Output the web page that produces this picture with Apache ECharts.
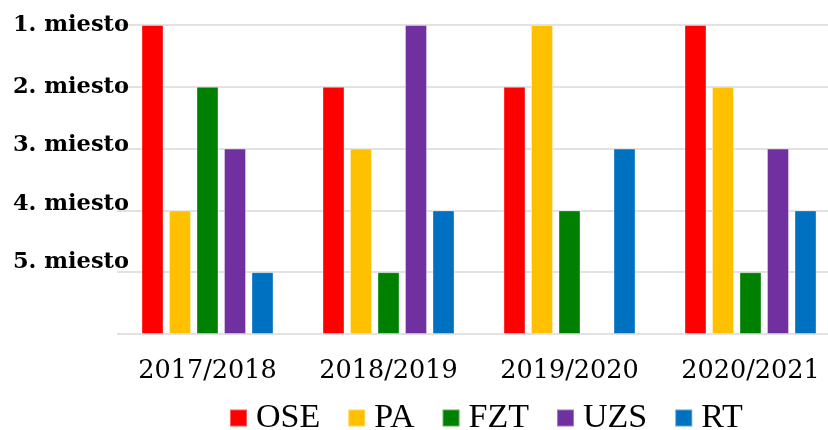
<!DOCTYPE html>
<html>
<head>
<meta charset="utf-8">
<script src="https://cdn.jsdelivr.net/npm/echarts@6/dist/echarts.min.js"></script>
<style>html,body{margin:0;padding:0;background:#fff;}#c{width:828px;height:430px;}</style>
</head>
<body>
<div id="c"></div>
<script>
// Categories (seasons)
var categories = ['2017/2018', '2018/2019', '2019/2020', '2020/2021'];
// Ranks (placement) per team; null = no bar
var seriesNames = ['OSE', 'PA', 'FZT', 'UZS', 'RT'];
var rankOSE = [1, 2, 2, 1];
var rankPA  = [4, 3, 1, 2];
var rankFZT = [2, 5, 4, 5];
var rankUZS = [3, 1, null, 3];
var rankRT  = [5, 4, 3, 4];
var colors = ['#FF0000', '#FFC000', '#008000', '#7030A0', '#0070C0'];
// Y tick labels (value = 6 - rank)
var rankLabels = ['1. miesto', '2. miesto', '3. miesto', '4. miesto', '5. miesto'];

var allRanks = [rankOSE, rankPA, rankFZT, rankUZS, rankRT];
function toHeight(r) { return r == null ? null : 6 - r; }

var chart = echarts.init(document.getElementById('c'));
var series = seriesNames.map(function (n, i) {
  return {
    name: n,
    type: 'bar',
    data: allRanks[i].map(toHeight),
    barWidth: 22,
    barGap: '25%',
    itemStyle: { color: colors[i], borderColor: 'rgba(255,255,255,0.35)', borderWidth: 1 }
  };
});

var labelStyle = { fontFamily: 'DejaVu Serif', fontWeight: 'bold', fontSize: 22.5, color: '#000' };
function rs(pb) { return Object.assign({}, labelStyle, { padding: [0, 0, pb, 0] }); }

chart.setOption({
  animation: false,
  backgroundColor: '#ffffff',
  grid: { left: 117, width: 724, top: 25, height: 309, containLabel: false, outerBoundsMode: 'none' },
  legend: {
    data: seriesNames,
    left: 229,
    top: 401,
    padding: 0,
    icon: 'rect',
    itemWidth: 17,
    itemHeight: 17,
    itemGap: 27,
    textStyle: { fontFamily: 'Liberation Serif', fontSize: 34, color: '#000', lineHeight: 34, padding: [0, 0, 0, 4] }
  },
  xAxis: {
    type: 'category',
    data: categories,
    axisLine: { show: false },
    axisTick: { show: false },
    axisLabel: { interval: 0, fontFamily: 'DejaVu Serif', fontSize: 25.5, color: '#000', margin: 24, lineHeight: 26 }
  },
  yAxis: {
    type: 'value',
    min: 0,
    max: 5,
    interval: 1,
    axisLine: { show: false },
    axisTick: { show: false },
    splitLine: { lineStyle: { color: '#d9d9d9', width: 1.5 } },
    axisLabel: {
      margin: -12,
      formatter: function (v) {
        var idx = 5 - v;
        if (v === 0) return '';
        return '{r' + idx + '|' + rankLabels[idx] + '}';
      },
      rich: { r0: rs(0), r1: rs(0), r2: rs(6), r3: rs(12), r4: rs(20) }
    }
  },
  series: series
});
</script>
</body>
</html>
